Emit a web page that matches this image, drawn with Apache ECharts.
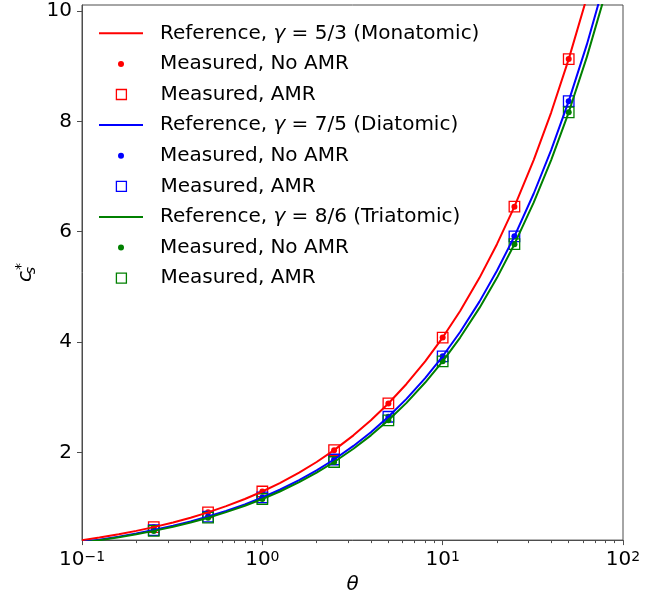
<!DOCTYPE html>
<html><head><meta charset="utf-8">
<script src="https://cdn.jsdelivr.net/npm/echarts@6/dist/echarts.min.js"></script>
<style>html,body{margin:0;padding:0;background:#fff}#c{width:666px;height:600px}</style>
</head><body><div id="c"></div>
<script>
// ---- data ----
const thetaCurve = [0.1, 0.125, 0.16, 0.2, 0.25, 0.32, 0.4, 0.5, 0.63, 0.8, 1, 1.25, 1.6, 2, 2.5, 3.2, 4, 5, 6.3, 8, 10, 12.5, 16, 20, 25, 32, 40, 50, 63, 80, 100];
const refMono = [0.408, 0.456, 0.516, 0.577, 0.645, 0.730, 0.816, 0.913, 1.025, 1.155, 1.291, 1.443, 1.633, 1.826, 2.041, 2.309, 2.582, 2.887, 3.240, 3.651, 4.082, 4.564, 5.164, 5.774, 6.455, 7.303, 8.165, 9.129, 10.247, 11.547, 12.910];
const refDi   = [0.374, 0.418, 0.473, 0.529, 0.592, 0.669, 0.748, 0.837, 0.939, 1.058, 1.183, 1.323, 1.497, 1.673, 1.871, 2.117, 2.366, 2.646, 2.970, 3.347, 3.742, 4.183, 4.733, 5.292, 5.916, 6.693, 7.483, 8.367, 9.391, 10.583, 11.832];
const refTri  = [0.365, 0.408, 0.462, 0.516, 0.577, 0.653, 0.730, 0.816, 0.917, 1.033, 1.155, 1.291, 1.461, 1.633, 1.826, 2.066, 2.309, 2.582, 2.898, 3.266, 3.651, 4.082, 4.619, 5.164, 5.774, 6.532, 7.303, 8.165, 9.165, 10.328, 11.547];

const thetaMeas = [0.25, 0.5, 1, 2.5, 5, 10, 25, 50];
const noAmrMono = [0.645, 0.913, 1.291, 2.041, 2.887, 4.082, 6.455, 9.129];
const amrMono   = [0.645, 0.913, 1.291, 2.041, 2.887, 4.082, 6.455, 9.129];
const noAmrDi   = [0.592, 0.837, 1.183, 1.871, 2.646, 3.742, 5.916, 8.367];
const amrDi     = [0.592, 0.837, 1.183, 1.871, 2.646, 3.742, 5.916, 8.367];
const noAmrTri  = [0.577, 0.816, 1.155, 1.826, 2.582, 3.651, 5.774, 8.165];
const amrTri    = [0.577, 0.816, 1.155, 1.826, 2.582, 3.651, 5.774, 8.165];

const xTickValues = [0.1, 1, 10, 100];
const xMinorTickValues = [0.2, 0.3, 0.4, 0.5, 0.6, 0.7, 0.8, 0.9, 2, 3, 4, 5, 6, 7, 8, 9, 20, 30, 40, 50, 60, 70, 80, 90];
const yTickValues = [2, 4, 6, 8, 10];

const legendLabels = [
  '{t|Reference, }{i|γ}{t| = 5/3 (Monatomic)}',
  '{t|Measured, No AMR}',
  '{t|Measured, AMR}',
  '{t|Reference, }{i|γ}{t| = 7/5 (Diatomic)}',
  '{t|Measured, No AMR}',
  '{t|Measured, AMR}',
  '{t|Reference, }{i|γ}{t| = 8/6 (Triatomic)}',
  '{t|Measured, No AMR}',
  '{t|Measured, AMR}'
];

// ---- build ----
const FONT = 'DejaVu Sans';
const AX = '#4d4d4d';
const zip = (xs, ys) => xs.map((x, i) => [x, ys[i]]);
const colors = ['#ff0000', '#0000ff', '#008000'];
const refs = [refMono, refDi, refTri];
const noAmrs = [noAmrMono, noAmrDi, noAmrTri];
const amrs = [amrMono, amrDi, amrTri];

const series = [];
const legends = [];
const richLegend = {
  t: {fontFamily: FONT, fontSize: 20, color: '#000', lineHeight: 20},
  i: {fontFamily: FONT, fontSize: 20, fontStyle: 'italic', color: '#000', lineHeight: 20}
};
for (let g = 0; g < 3; g++) {
  const c = colors[g];
  series.push({
    name: 'ref' + g, type: 'line', data: zip(thetaCurve, refs[g]),
    symbol: 'none', showSymbol: false, smooth: false,
    lineStyle: {color: c, width: 2}, itemStyle: {color: c},
    clip: true, emphasis: {disabled: true}
  });
  series.push({
    name: 'noamr' + g, type: 'scatter', data: zip(thetaMeas, noAmrs[g]),
    symbol: 'circle', symbolSize: 6, itemStyle: {color: c, opacity: 1},
    emphasis: {disabled: true}
  });
  series.push({
    name: 'amr' + g, type: 'scatter', data: zip(thetaMeas, amrs[g]),
    symbol: 'rect', symbolSize: 10.5,
    itemStyle: {color: 'transparent', borderColor: c, borderWidth: 1.3, opacity: 1},
    emphasis: {disabled: true}
  });
}
const rowY0 = 33.3, rowStep = 30.6, iconCenterX = 121;
for (let k = 0; k < 9; k++) {
  const g = Math.floor(k / 3), kind = k % 3, c = colors[g];
  const name = ['ref', 'noamr', 'amr'][kind] + g;
  let icon, ih, iw, istyle;
  if (kind === 0) { icon = 'path://M0,0H44V2H0Z'; ih = 2; iw = 44; istyle = {color: c, borderWidth: 0, opacity: 1}; }
  else if (kind === 1) { icon = 'circle'; ih = 6; iw = 6; istyle = {color: c, borderWidth: 0, opacity: 1}; }
  else { icon = 'path://M0,0H10V10H0Z'; ih = 10; iw = 10.5; istyle = {color: 'transparent', borderColor: c, borderWidth: 1.3, opacity: 1}; }
  legends.push({
    data: [name], left: iconCenterX - iw / 2, top: rowY0 + k * rowStep - 10, padding: 0,
    itemWidth: 68, itemHeight: ih, icon: icon, itemStyle: istyle,
    lineStyle: {width: 0}, symbolKeepAspect: true,
    selectedMode: false, formatter: () => legendLabels[k],
    textStyle: {fontFamily: FONT, fontSize: 20, color: '#000', lineHeight: 20, rich: richLegend}
  });
}

const chart = echarts.init(document.getElementById('c'), null, {renderer: 'canvas'});
chart.setOption({
  animation: false,
  backgroundColor: '#fff',
  grid: {left: 82, right: 43, top: 5, bottom: 57, show: true, borderColor: AX, borderWidth: 1, backgroundColor: 'transparent'},
  legend: legends,
  xAxis: [{
    type: 'log', logBase: 10, min: 0.1, max: 100,
    name: 'θ', nameLocation: 'middle', nameGap: 33,
    nameTextStyle: {fontFamily: FONT, fontSize: 20, fontStyle: 'italic', color: '#000'},
    axisLine: {show: true, lineStyle: {color: AX, width: 1}},
    axisTick: {show: true, length: 5, lineStyle: {color: AX, width: 1}, customValues: xTickValues},
    splitLine: {show: false}, minorTick: {show: false},
    axisLabel: {
      customValues: xTickValues, margin: 10,
      formatter: v => { const e = Math.round(Math.log10(v)); return '{b|10}{s|' + (e < 0 ? '\u2212' + (-e) : e) + '}'; },
      rich: {
        b: {fontFamily: FONT, fontSize: 20, color: '#000', lineHeight: 20},
        s: {fontFamily: FONT, fontSize: 14, color: '#000', lineHeight: 10, verticalAlign: 'top'}
      }
    }
  }, {
    type: 'log', logBase: 10, min: 0.1, max: 100, position: 'bottom',
    axisLine: {show: false},
    axisTick: {show: true, length: 3, lineStyle: {color: AX, width: 1}, customValues: xMinorTickValues},
    axisLabel: {show: false}, splitLine: {show: false}
  }],
  yAxis: {
    type: 'value', min: 0.41, max: 10.11,
    name: '{c|c}{s|s}{a|*}', nameLocation: 'middle', nameRotate: 90, nameGap: 44, nameMoveOverlap: false,
    nameTextStyle: {
      rich: {
        c: {fontFamily: FONT, fontSize: 20, fontStyle: 'italic', color: '#000', lineHeight: 24},
        s: {fontFamily: FONT, fontSize: 14, fontStyle: 'italic', color: '#000', lineHeight: 14, verticalAlign: 'bottom', width: 1},
        a: {fontFamily: FONT, fontSize: 14, color: '#000', lineHeight: 14, verticalAlign: 'top'}
      }
    },
    axisLine: {show: true, lineStyle: {color: AX, width: 1}},
    axisTick: {show: true, length: 5, lineStyle: {color: AX, width: 1}, customValues: yTickValues},
    splitLine: {show: false},
    axisLabel: {customValues: yTickValues, margin: 10, fontFamily: FONT, fontSize: 20, color: '#000'}
  },
  series: series
});
</script>
</body></html>
